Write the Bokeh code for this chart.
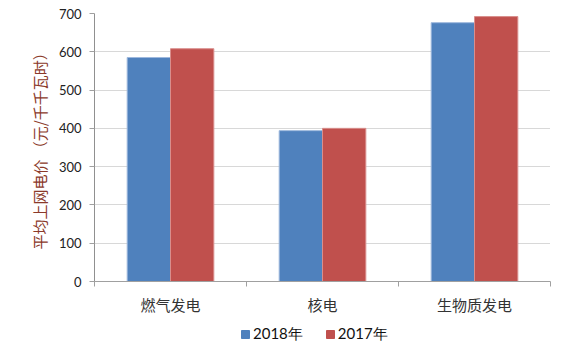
from bokeh.plotting import figure
from bokeh.layouts import column
from bokeh.models import ColumnDataSource, FixedTicker, Legend, LegendItem, Range1d
from bokeh.embed import file_html
from bokeh.resources import INLINE

categories = ["燃气发电", "核电", "生物质发电"]
series_names = ["2018年", "2017年"]
values_2018 = [585, 394, 676]
values_2017 = [608, 400, 692]
y_ticks = [0, 100, 200, 300, 400, 500, 600, 700]
colors = ["#4F81BD", "#C0504D"]
edge_colors = ["#9DB8DD", "#D98E8C"]

p = figure(width=574, height=318, output_backend="svg", toolbar_location=None,
           x_range=Range1d(0, 3), y_range=Range1d(0, 700),
           min_border_left=94, min_border_right=24, min_border_top=13, min_border_bottom=37)
p.outline_line_color = None
p.background_fill_color = "white"

bw = 0.285
centers = [i + 0.5 for i in range(len(categories))]
src18 = ColumnDataSource(dict(x=[c - bw / 2 for c in centers], top=values_2018))
src17 = ColumnDataSource(dict(x=[c + bw / 2 for c in centers], top=values_2017))
p.vbar(x="x", top="top", width=bw, source=src18, fill_color=colors[0], line_color=edge_colors[0], line_width=1)
p.vbar(x="x", top="top", width=bw, source=src17, fill_color=colors[1], line_color=edge_colors[1], line_width=1)

# x axis: labels at centres, ticks at boundaries
p.xaxis.ticker = FixedTicker(ticks=centers, minor_ticks=[0, 1, 2, 3])
p.xaxis.major_label_overrides = {c: categories[i] for i, c in enumerate(centers)}
p.xaxis.major_tick_out = 0
p.xaxis.major_tick_in = 0
p.xaxis.minor_tick_out = 5
p.xaxis.minor_tick_in = 0
p.xaxis.minor_tick_line_color = "#A0A0A0"
p.xaxis.axis_line_color = "#A0A0A0"
p.xaxis.major_label_text_font = "Noto Sans CJK SC"
p.xaxis.major_label_text_font_size = "15px"
p.xaxis.major_label_text_color = "#333333"
p.xaxis.major_label_standoff = 7

p.yaxis.ticker = FixedTicker(ticks=y_ticks)
p.yaxis.minor_tick_line_color = None
p.yaxis.major_tick_in = 0
p.yaxis.major_tick_out = 5
p.yaxis.major_tick_line_color = "#A0A0A0"
p.yaxis.axis_line_color = "#909090"
p.yaxis.major_label_text_font = "Lato"
p.yaxis.major_label_text_font_size = "13px"
p.yaxis.major_label_text_color = "#222222"
p.yaxis.major_label_standoff = 8
p.yaxis.axis_label = "平均上网电价 （元/千千瓦时）"
p.yaxis.axis_label_text_font = "Noto Sans CJK SC"
p.yaxis.axis_label_text_font_style = "normal"
p.yaxis.axis_label_text_font_size = "15px"
p.yaxis.axis_label_text_color = "#8B3A2A"
p.yaxis.axis_label_standoff = 6

p.xgrid.grid_line_color = None
p.ygrid.grid_line_color = "#B0B0B0"
p.ygrid.grid_line_dash = "1 1"
p.ygrid.grid_line_width = 1

# legend strip (proxy glyphs lie outside the visible range)
pl = figure(width=574, height=34, output_backend="svg", toolbar_location=None,
            x_range=Range1d(0, 1), y_range=Range1d(0, 1),
            min_border_left=0, min_border_right=0, min_border_top=0, min_border_bottom=0)
pl.axis.visible = False
pl.grid.grid_line_color = None
pl.outline_line_color = None
proxy = dict(x=[-10], top=[-10])
l18 = pl.vbar(x="x", top="top", width=0.1, source=ColumnDataSource(proxy), fill_color=colors[0], line_color=colors[0])
l17 = pl.vbar(x="x", top="top", width=0.1, source=ColumnDataSource(proxy), fill_color=colors[1], line_color=colors[1])
legend = Legend(items=[LegendItem(label=series_names[0], renderers=[l18]),
                       LegendItem(label=series_names[1], renderers=[l17])],
                orientation="horizontal", location=(146, 8),
                glyph_width=10, glyph_height=10, label_text_font="Lato",
                label_text_font_size="15px", label_text_color="#111111",
                border_line_color=None, background_fill_alpha=0,
                spacing=22, padding=0, margin=0, label_standoff=3)
pl.add_layout(legend, "center")

open("out.html", "w").write(file_html(column(p, pl, spacing=0), INLINE))
